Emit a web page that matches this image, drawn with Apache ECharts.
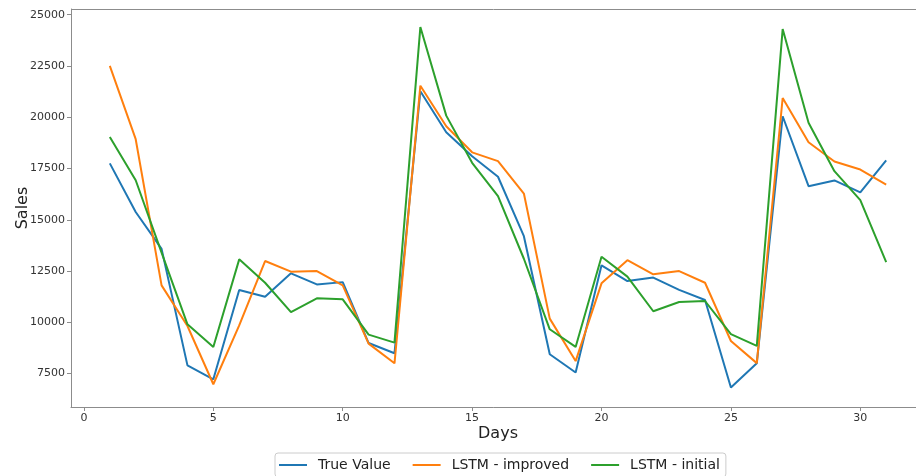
<!DOCTYPE html>
<html>
<head>
<meta charset="utf-8">
<script src="https://cdn.jsdelivr.net/npm/echarts@6/dist/echarts.min.js"></script>
<style>html,body{margin:0;padding:0;background:#fff;}#c{width:916px;height:476px;}</style>
</head>
<body>
<div id="c"></div>
<script>
var days = [1,2,3,4,5,6,7,8,9,10,11,12,13,14,15,16,17,18,19,20,21,22,23,24,25,26,27,28,29,30,31];
var trueValue = [17750,15380,13580,7900,7220,11580,11250,12390,11850,11960,8990,8490,21270,19270,18100,17100,14200,8440,7550,12780,12010,12180,11580,11090,6820,8000,20050,16640,16920,16340,17900];
var lstmImproved = [22510,18930,11800,9820,6980,9850,12990,12470,12500,11800,8960,8000,21540,19560,18290,17860,16280,10180,8110,11900,13030,12340,12500,11930,9090,8010,20940,18780,17840,17450,16720];
var lstmInitial = [19040,16930,13400,9900,8800,13070,11930,10500,11170,11120,9400,9010,24400,20080,17780,16150,13100,9660,8800,13200,12230,10540,10990,11040,9420,8850,24300,19730,17370,15960,12940];
var xTicks = [0,5,10,15,20,25,30];
var yTicks = [7500,10000,12500,15000,17500,20000,22500,25000];
var seriesNames = ['True Value','LSTM - improved','LSTM - initial'];
var colors = ['#1f77b4','#ff7f0e','#2ca02c'];

function pairs(arr){ return days.map(function(d,i){ return [d, arr[i]]; }); }

var chart = echarts.init(document.getElementById('c'), null, {renderer:'canvas'});
var font = 'DejaVu Sans';
var option = {
  backgroundColor:'#fff',
  animation:false,
  color: colors,
  textStyle:{fontFamily:font},
  grid:{left:71, top:9, width:854, height:398, containLabel:false, outerBoundsMode:'none'},
  legend:{
    left:275, top:453,
    data: seriesNames,
    icon:'rect',
    itemWidth:28, itemHeight:2, itemGap:22,
    borderColor:'#cccccc', borderWidth:1, borderRadius:3,
    padding:[5,6,5,4],
    backgroundColor:'#fff',
    textStyle:{fontFamily:font, fontSize:14, color:'#222', padding:[0,0,0,6]}
  },
  xAxis:{
    type:'value', min:-0.5, max:32.5,
    name:'Days', nameLocation:'middle', nameGap:19, nameMoveOverlap:false,
    nameTextStyle:{fontFamily:font, fontSize:16, color:'#222'},
    axisLine:{show:true, onZero:false, lineStyle:{color:'#8c8c8c', width:1}},
    axisTick:{show:true, length:4, customValues:xTicks, lineStyle:{color:'#8c8c8c'}},
    axisLabel:{customValues:xTicks, fontFamily:font, fontSize:11, color:'#333', margin:6, formatter:function(v){return String(v);}},
    splitLine:{show:false}
  },
  yAxis:{
    type:'value', min:5870, max:25280,
    name:'Sales', nameLocation:'middle', nameGap:40, nameRotate:90, nameMoveOverlap:false,
    nameTextStyle:{fontFamily:font, fontSize:16, color:'#222'},
    axisLine:{show:true, onZero:false, lineStyle:{color:'#8c8c8c', width:1}},
    axisTick:{show:true, length:4, customValues:yTicks, lineStyle:{color:'#8c8c8c'}},
    axisLabel:{customValues:yTicks, fontFamily:font, fontSize:11, color:'#333', margin:6, formatter:function(v){return String(v);}},
    splitLine:{show:false}
  },
  graphic:[{type:'line', shape:{x1:71,y1:9.5,x2:916,y2:9.5}, style:{stroke:'#8c8c8c', lineWidth:1}, silent:true}],
  series:[
    {name:seriesNames[0], type:'line', data:pairs(trueValue), symbol:'none', lineStyle:{width:2}, z:3},
    {name:seriesNames[1], type:'line', data:pairs(lstmImproved), symbol:'none', lineStyle:{width:2}, z:4},
    {name:seriesNames[2], type:'line', data:pairs(lstmInitial), symbol:'none', lineStyle:{width:2}, z:5}
  ]
};
chart.setOption(option);
</script>
</body>
</html>
